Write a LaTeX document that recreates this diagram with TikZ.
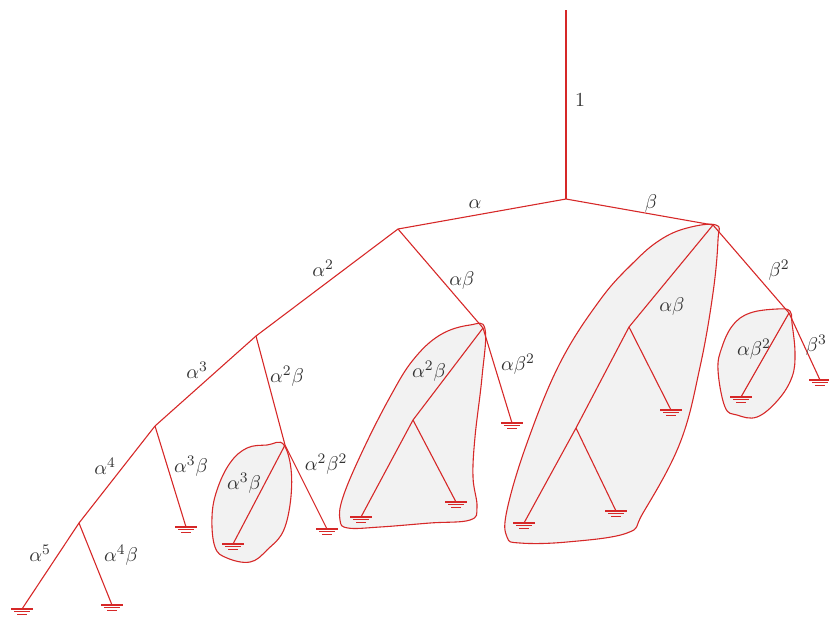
\documentclass[tikz,border=0pt]{standalone}
\usepackage{amsmath}
\usepackage{tikz}
\definecolor{wire}{RGB}{214,40,40}
\definecolor{blobfill}{gray}{0.95}
\tikzstyle{branch} = [draw=wire, line width=0.6pt]
\tikzstyle{blob} = [draw=wire, fill=blobfill, line width=0.6pt]
\tikzstyle{weight} = [text=black!80, inner sep=1pt, font=\fontsize{11}{13}\selectfont]
\tikzset{earth/.pic={\draw[branch] (-11,0) -- (11,0) (-8,2.8) -- (8,2.8) (-5,5.6) -- (5,5.6);}}

\begin{document}
\begin{tikzpicture}[x=0.55pt, y=-0.55pt]
                \useasboundingbox (0,0) rectangle (829,616);
                \clip (0,0) rectangle (829,616);

% ---------------------------------------------
% Shaded blobs
% ---------------------------------------------
                \draw [blob] plot [smooth cycle, tension=0.65] coordinates {(284,445) (291.7,480) (285,527) (267,550) (250,562) (227,558) (215,547) (212,517) (217,490) (230,463) (247,448) (267,445)};
                \draw [blob] plot [smooth cycle, tension=0.65] coordinates {(485,329) (470,325) (440,335) (413,360) (390,397) (363,450) (343,497) (340,520) (348,528) (380,527) (430,523) (470,520) (477,507) (473,477) (475,437) (482,377)};
                \draw [blob] plot [smooth cycle, tension=0.65] coordinates {(716,225) (687,228) (660,240) (633,263) (600,300) (560,363) (527,443) (507,510) (507,537) (520,543) (567,542) (627,533) (643,513) (680,443) (700,367) (713,293) (718,240)};
                \draw [blob] plot [smooth cycle, tension=0.65] coordinates {(790,311) (777,309) (750,313) (733,325) (722,347) (718,370) (725,407) (737,415) (757,417) (778,400) (792,377) (795,353) (792,323)};

% ---------------------------------------------
% Branch points
% ---------------------------------------------
                \coordinate (top) at (566,10);
                \coordinate (root) at (566,199);
                \coordinate (alpha) at (398,229);
                \coordinate (beta) at (713,225);
                \coordinate (alpha_sq) at (256,336);
                \coordinate (alpha_beta) at (483,328);
                \coordinate (alpha_cu) at (155,426);
                \coordinate (alpha_sq_beta) at (285,445);
                \coordinate (alpha_qu) at (79,523);
                \coordinate (inner_left) at (413,420);
                \coordinate (inner_big) at (629,327);
                \coordinate (inner_big_low) at (576,428);
                \coordinate (beta_sq) at (789,313);

% ---------------------------------------------
% Grounds
% ---------------------------------------------
                \coordinate (g_a5) at (22,609);
                \coordinate (g_a4b) at (112,605);
                \coordinate (g_a3b) at (186,527);
                \coordinate (g_in_a3b) at (233,544);
                \coordinate (g_a2b2) at (327,529);
                \coordinate (g_in_left_a) at (361,517);
                \coordinate (g_in_left_b) at (456,502);
                \coordinate (g_ab2) at (512,423);
                \coordinate (g_in_big_a) at (524,523);
                \coordinate (g_in_big_b) at (616,511);
                \coordinate (g_in_big_c) at (671,410);
                \coordinate (g_in_ab2) at (741,397);
                \coordinate (g_b3) at (820,380);

% ---------------------------------------------
% All branches
% ---------------------------------------------
                \draw [branch] (top) -- (root);
                \draw [branch] (root) -- (alpha);
                \draw [branch] (root) -- (beta);
                \draw [branch] (alpha) -- (alpha_sq);
                \draw [branch] (alpha) -- (alpha_beta);
                \draw [branch] (alpha_sq) -- (alpha_cu);
                \draw [branch] (alpha_sq) -- (alpha_sq_beta);
                \draw [branch] (alpha_cu) -- (alpha_qu);
                \draw [branch] (alpha_cu) -- (g_a3b);
                \draw [branch] (alpha_qu) -- (g_a5);
                \draw [branch] (alpha_qu) -- (g_a4b);
                \draw [branch] (alpha_sq_beta) -- (g_in_a3b);
                \draw [branch] (alpha_sq_beta) -- (g_a2b2);
                \draw [branch] (alpha_beta) -- (inner_left);
                \draw [branch] (alpha_beta) -- (g_ab2);
                \draw [branch] (inner_left) -- (g_in_left_a);
                \draw [branch] (inner_left) -- (g_in_left_b);
                \draw [branch] (beta) -- (inner_big);
                \draw [branch] (beta) -- (beta_sq);
                \draw [branch] (inner_big) -- (g_in_big_c);
                \draw [branch] (inner_big) -- (inner_big_low);
                \draw [branch] (inner_big_low) -- (g_in_big_a);
                \draw [branch] (inner_big_low) -- (g_in_big_b);
                \draw [branch] (beta_sq) -- (g_in_ab2);
                \draw [branch] (beta_sq) -- (g_b3);

                % ground symbols
                \pic at (g_a5) {earth};
                \pic at (g_a4b) {earth};
                \pic at (g_a3b) {earth};
                \pic at (g_in_a3b) {earth};
                \pic at (g_a2b2) {earth};
                \pic at (g_in_left_a) {earth};
                \pic at (g_in_left_b) {earth};
                \pic at (g_ab2) {earth};
                \pic at (g_in_big_a) {earth};
                \pic at (g_in_big_b) {earth};
                \pic at (g_in_big_c) {earth};
                \pic at (g_in_ab2) {earth};
                \pic at (g_b3) {earth};

% ---------------------------------------------
% Labels
% ---------------------------------------------
                \node (lab_one) [weight] at (580,100) {$1$};
                \node (lab_a) [weight] at (475,204) {$\alpha$};
                \node (lab_b) [weight] at (651,204) {$\beta$};
                \node (lab_a2) [weight] at (323,268) {$\alpha^2$};
                \node (lab_ab) [weight] at (462,281) {$\alpha\beta$};
                \node (lab_a3) [weight] at (197,370) {$\alpha^3$};
                \node (lab_a2b) [weight] at (287,376) {$\alpha^2\beta$};
                \node (lab_a4) [weight] at (105,466) {$\alpha^4$};
                \node (lab_a3b) [weight] at (191,466) {$\alpha^3\beta$};
                \node (lab_a5) [weight] at (40,553) {$\alpha^5$};
                \node (lab_a4b) [weight] at (121,555) {$\alpha^4\beta$};
                \node (lab_in_a3b) [weight] at (244,483) {$\alpha^3\beta$};
                \node (lab_a2b2) [weight] at (326,464) {$\alpha^2\beta^2$};
                \node (lab_in_a2b) [weight] at (429,371) {$\alpha^2\beta$};
                \node (lab_ab2) [weight] at (518,364) {$\alpha\beta^2$};
                \node (lab_in_ab) [weight] at (672,307) {$\alpha\beta$};
                \node (lab_b2) [weight] at (779,270) {$\beta^2$};
                \node (lab_in_ab2) [weight] at (754,349) {$\alpha\beta^2$};
                \node (lab_b3) [weight, anchor=east] at (829,345) {$\beta^3$};

            \end{tikzpicture}
\end{document}
